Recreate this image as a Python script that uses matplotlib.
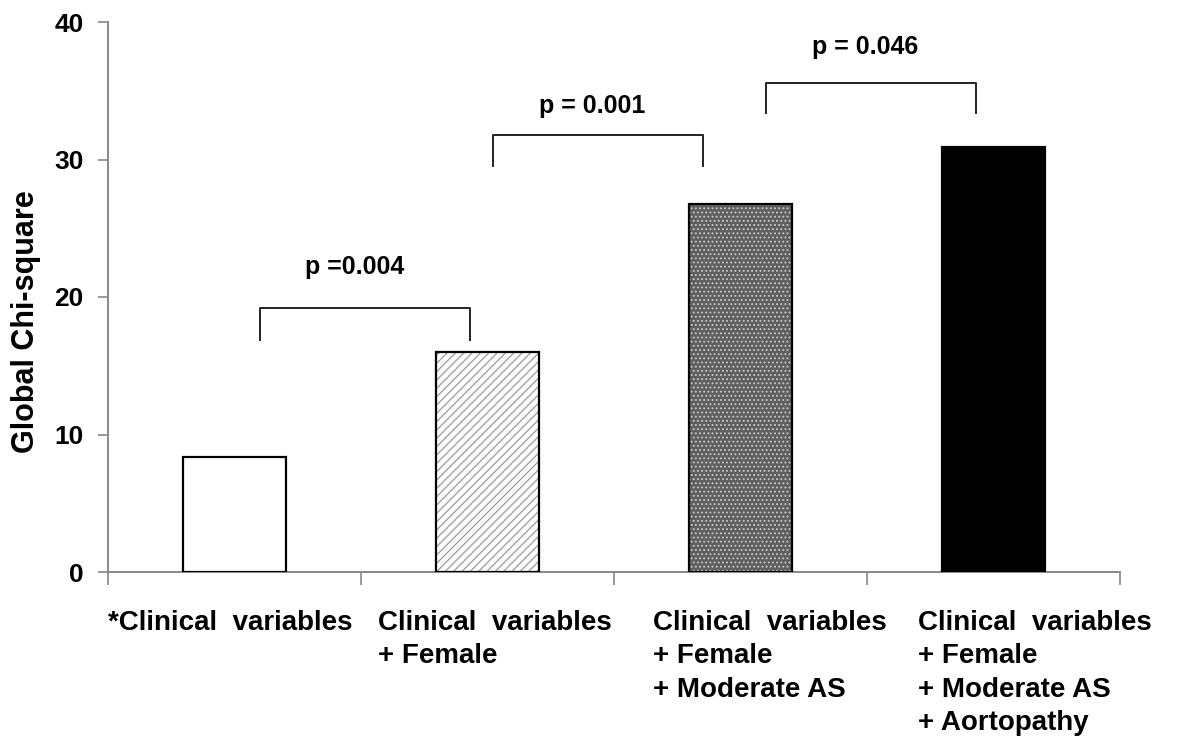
import matplotlib
matplotlib.use('Agg')
import matplotlib.pyplot as plt
import matplotlib.transforms as mtransforms

# model steps and their global chi-square
categories = ['*Clinical  variables',
              'Clinical  variables\n+ Female',
              'Clinical  variables\n+ Female\n+ Moderate AS',
              'Clinical  variables\n+ Female\n+ Moderate AS\n+ Aortopathy']
chi_square = [8.4, 16.0, 26.8, 30.9]
y_ticks = [0, 10, 20, 30, 40]

# pairwise comparisons: (left x, right x, bracket top, leg bottom, label)
comparisons = [
    (0.10, 0.93, 19.2, 16.9, 'p =0.004'),
    (1.02, 1.85, 31.8, 29.5, 'p = 0.001'),
    (2.10, 2.93, 35.6, 33.4, 'p = 0.046'),
]


def main():
    plt.rcParams['font.family'] = ['Liberation Sans', 'DejaVu Sans']
    plt.rcParams['font.weight'] = 'bold'
    plt.rcParams['hatch.linewidth'] = 0.9

    fig = plt.figure(figsize=(11.8, 7.4), dpi=100)
    ax = fig.add_axes([108 / 1180, 168 / 740, 1012 / 1180, 550 / 740])

    x = list(range(len(categories)))
    width = 0.405
    # fills first (hatch colour follows edge colour), then black outlines
    fills = [('white', None, 'white'),
             ('white', '////', '#9a9a9a'),
             ('#5e5e5e', '....', '#c4c4c4'),
             ('black', None, 'black')]
    for xi, h, (fc, hatch, hc) in zip(x, chi_square, fills):
        ax.bar(xi, h, width=width, color=fc, hatch=hatch, edgecolor=hc, linewidth=0, zorder=2)
        ax.bar(xi, h, width=width, fill=False, edgecolor='black', linewidth=1.6, zorder=3)

    for x0, x1, top, bottom, label in comparisons:
        ax.plot([x0, x0, x1, x1], [bottom, top, top, bottom], color='#222222', linewidth=1.4, zorder=4)

    label_pos = [(0.476, 21.7), (1.413, 33.4), (2.492, 37.7)]
    for (x0, x1, top, bottom, label), (tx, ty) in zip(comparisons, label_pos):
        ax.text(tx, ty, label, ha='center', va='baseline', fontsize=18, fontweight='bold')

    ax.set_xlim(-0.5, 3.5)
    ax.set_ylim(0, 40)
    ax.set_yticks(y_ticks)
    ax.set_yticklabels([str(t) for t in y_ticks], fontsize=19, fontweight='bold')
    ax.set_xticks([-0.5, 0.5, 1.5, 2.5, 3.5])
    ax.set_xticklabels([])
    ax.tick_params(axis='y', direction='out', length=7.5, width=1.2, color='#888888', pad=10)
    ax.tick_params(axis='x', direction='out', length=9.5, width=1.2, color='#888888')
    for side in ['top', 'right']:
        ax.spines[side].set_visible(False)
    for side in ['left', 'bottom']:
        ax.spines[side].set_color('#888888')
        ax.spines[side].set_linewidth(1.4)

    ax.set_ylabel('Global Chi-square', fontsize=22, fontweight='bold')
    ax.yaxis.set_label_coords(-0.066, 0.456)

    # category labels sit below the axis, left aligned
    trans = mtransforms.blended_transform_factory(ax.transData, ax.transAxes)
    label_x = [-0.5, 0.567, 1.654, 2.702]
    for lx, text in zip(label_x, categories):
        ax.text(lx, -0.069, text, transform=trans, ha='left', va='top',
                fontsize=20, fontweight='bold', linespacing=1.37)

    fig.savefig('out.png', dpi=100)


if __name__ == '__main__':
    main()
